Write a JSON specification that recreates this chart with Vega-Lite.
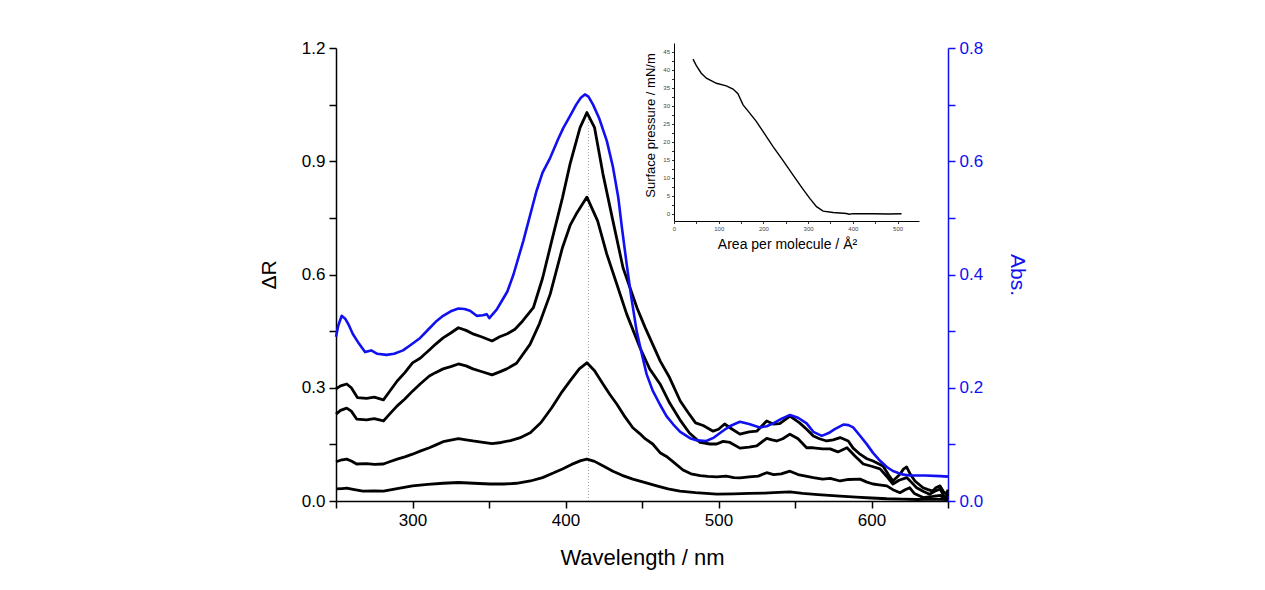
{
  "$schema": "https://vega.github.io/schema/vega-lite/v6.json",
  "autosize": {"type": "none"},
  "padding": {"left": 336, "top": 48, "right": 317, "bottom": 89},
  "width": 612,
  "height": 453,
  "background": "white",
  "config": {
    "font": "Liberation Sans",
    "view": {"stroke": null},
    "axis": {"grid": false, "labelFont": "Liberation Sans", "titleFont": "Liberation Sans", "titleFontWeight": "normal", "labelOverlap": false, "labelFlush": false}
  },
  "datasets": {
    "dr": [
      {"s":"1","wl":250,"v":0.297},{"s":"1","wl":253,"v":0.305},{"s":"1","wl":257,"v":0.31},{"s":"1","wl":260,"v":0.3},{"s":"1","wl":264,"v":0.274},{"s":"1","wl":270,"v":0.272},{"s":"1","wl":275,"v":0.275},{"s":"1","wl":281,"v":0.268},{"s":"1","wl":285,"v":0.29},{"s":"1","wl":290,"v":0.318},{"s":"1","wl":295,"v":0.34},{"s":"1","wl":300,"v":0.366},{"s":"1","wl":305,"v":0.378},{"s":"1","wl":311,"v":0.4},{"s":"1","wl":315,"v":0.415},{"s":"1","wl":320,"v":0.432},{"s":"1","wl":325,"v":0.445},{"s":"1","wl":330,"v":0.459},{"s":"1","wl":335,"v":0.452},{"s":"1","wl":340,"v":0.442},{"s":"1","wl":345,"v":0.435},{"s":"1","wl":352,"v":0.424},{"s":"1","wl":357,"v":0.435},{"s":"1","wl":362,"v":0.443},{"s":"1","wl":367,"v":0.455},{"s":"1","wl":372,"v":0.477},{"s":"1","wl":379,"v":0.512},{"s":"1","wl":385,"v":0.59},{"s":"1","wl":391,"v":0.689},{"s":"1","wl":398,"v":0.803},{"s":"1","wl":403,"v":0.893},{"s":"1","wl":409.5,"v":0.989},{"s":"1","wl":414,"v":1.029},{"s":"1","wl":419,"v":0.989},{"s":"1","wl":424.5,"v":0.866},{"s":"1","wl":431,"v":0.742},{"s":"1","wl":437.6,"v":0.618},{"s":"1","wl":446.7,"v":0.512},{"s":"1","wl":452,"v":0.46},{"s":"1","wl":457,"v":0.415},{"s":"1","wl":462,"v":0.37},{"s":"1","wl":468,"v":0.327},{"s":"1","wl":475,"v":0.265},{"s":"1","wl":480,"v":0.235},{"s":"1","wl":485,"v":0.207},{"s":"1","wl":490,"v":0.2},{"s":"1","wl":496.5,"v":0.185},{"s":"1","wl":500,"v":0.19},{"s":"1","wl":504,"v":0.204},{"s":"1","wl":509,"v":0.19},{"s":"1","wl":514,"v":0.177},{"s":"1","wl":520,"v":0.183},{"s":"1","wl":525,"v":0.185},{"s":"1","wl":531.5,"v":0.212},{"s":"1","wl":535.7,"v":0.204},{"s":"1","wl":540,"v":0.205},{"s":"1","wl":546.7,"v":0.225},{"s":"1","wl":553,"v":0.207},{"s":"1","wl":557.6,"v":0.19},{"s":"1","wl":562,"v":0.172},{"s":"1","wl":566,"v":0.165},{"s":"1","wl":570.7,"v":0.159},{"s":"1","wl":575,"v":0.162},{"s":"1","wl":579.5,"v":0.168},{"s":"1","wl":584.8,"v":0.159},{"s":"1","wl":588,"v":0.14},{"s":"1","wl":592.5,"v":0.124},{"s":"1","wl":597,"v":0.112},{"s":"1","wl":601,"v":0.106},{"s":"1","wl":607.5,"v":0.093},{"s":"1","wl":611,"v":0.07},{"s":"1","wl":614,"v":0.053},{"s":"1","wl":618.6,"v":0.071},{"s":"1","wl":621,"v":0.085},{"s":"1","wl":623,"v":0.09},{"s":"1","wl":625.5,"v":0.07},{"s":"1","wl":628.4,"v":0.053},{"s":"1","wl":633.7,"v":0.035},{"s":"1","wl":637,"v":0.03},{"s":"1","wl":640,"v":0.026},{"s":"1","wl":642,"v":0.035},{"s":"1","wl":644.8,"v":0.04},{"s":"1","wl":647,"v":0.025},{"s":"1","wl":649,"v":0.018},{"s":"1","wl":650,"v":0.03},
      {"s":"2","wl":250,"v":0.23},{"s":"2","wl":253,"v":0.24},{"s":"2","wl":257,"v":0.246},{"s":"2","wl":260,"v":0.238},{"s":"2","wl":263.5,"v":0.217},{"s":"2","wl":270,"v":0.215},{"s":"2","wl":275,"v":0.218},{"s":"2","wl":281,"v":0.212},{"s":"2","wl":285,"v":0.23},{"s":"2","wl":290,"v":0.252},{"s":"2","wl":295,"v":0.27},{"s":"2","wl":300,"v":0.291},{"s":"2","wl":305,"v":0.31},{"s":"2","wl":311,"v":0.331},{"s":"2","wl":315,"v":0.34},{"s":"2","wl":320,"v":0.35},{"s":"2","wl":325,"v":0.356},{"s":"2","wl":330,"v":0.363},{"s":"2","wl":335,"v":0.358},{"s":"2","wl":339.5,"v":0.35},{"s":"2","wl":345,"v":0.343},{"s":"2","wl":352,"v":0.334},{"s":"2","wl":357,"v":0.342},{"s":"2","wl":361.6,"v":0.35},{"s":"2","wl":368,"v":0.365},{"s":"2","wl":376.8,"v":0.415},{"s":"2","wl":383,"v":0.47},{"s":"2","wl":390,"v":0.548},{"s":"2","wl":398,"v":0.671},{"s":"2","wl":403,"v":0.73},{"s":"2","wl":407,"v":0.76},{"s":"2","wl":414,"v":0.805},{"s":"2","wl":421,"v":0.742},{"s":"2","wl":427,"v":0.654},{"s":"2","wl":433.5,"v":0.575},{"s":"2","wl":440,"v":0.495},{"s":"2","wl":448.7,"v":0.406},{"s":"2","wl":455,"v":0.35},{"s":"2","wl":461.8,"v":0.31},{"s":"2","wl":468,"v":0.26},{"s":"2","wl":474.8,"v":0.215},{"s":"2","wl":481,"v":0.18},{"s":"2","wl":488,"v":0.155},{"s":"2","wl":494.4,"v":0.151},{"s":"2","wl":498.8,"v":0.151},{"s":"2","wl":503,"v":0.158},{"s":"2","wl":507.5,"v":0.155},{"s":"2","wl":514,"v":0.14},{"s":"2","wl":520,"v":0.143},{"s":"2","wl":525,"v":0.146},{"s":"2","wl":531.5,"v":0.166},{"s":"2","wl":535,"v":0.162},{"s":"2","wl":538,"v":0.159},{"s":"2","wl":542,"v":0.165},{"s":"2","wl":546.7,"v":0.177},{"s":"2","wl":552,"v":0.165},{"s":"2","wl":557.6,"v":0.141},{"s":"2","wl":562,"v":0.141},{"s":"2","wl":568,"v":0.138},{"s":"2","wl":573,"v":0.138},{"s":"2","wl":578,"v":0.13},{"s":"2","wl":584,"v":0.141},{"s":"2","wl":589,"v":0.12},{"s":"2","wl":594.6,"v":0.098},{"s":"2","wl":600,"v":0.092},{"s":"2","wl":605.6,"v":0.085},{"s":"2","wl":610,"v":0.065},{"s":"2","wl":614,"v":0.045},{"s":"2","wl":618,"v":0.055},{"s":"2","wl":623,"v":0.062},{"s":"2","wl":626,"v":0.05},{"s":"2","wl":629.5,"v":0.035},{"s":"2","wl":634,"v":0.025},{"s":"2","wl":638,"v":0.018},{"s":"2","wl":641,"v":0.025},{"s":"2","wl":644.8,"v":0.032},{"s":"2","wl":647,"v":0.015},{"s":"2","wl":649,"v":0.009},{"s":"2","wl":650,"v":0.02},
      {"s":"3","wl":250,"v":0.104},{"s":"3","wl":253,"v":0.108},{"s":"3","wl":257,"v":0.111},{"s":"3","wl":260,"v":0.106},{"s":"3","wl":263.5,"v":0.098},{"s":"3","wl":270,"v":0.099},{"s":"3","wl":275,"v":0.097},{"s":"3","wl":281,"v":0.098},{"s":"3","wl":285,"v":0.104},{"s":"3","wl":290,"v":0.111},{"s":"3","wl":295,"v":0.117},{"s":"3","wl":300,"v":0.124},{"s":"3","wl":305,"v":0.132},{"s":"3","wl":311,"v":0.141},{"s":"3","wl":315,"v":0.148},{"s":"3","wl":320,"v":0.157},{"s":"3","wl":325,"v":0.161},{"s":"3","wl":330,"v":0.165},{"s":"3","wl":335,"v":0.162},{"s":"3","wl":339.5,"v":0.159},{"s":"3","wl":345,"v":0.156},{"s":"3","wl":352,"v":0.152},{"s":"3","wl":358,"v":0.155},{"s":"3","wl":364,"v":0.16},{"s":"3","wl":370,"v":0.167},{"s":"3","wl":377,"v":0.181},{"s":"3","wl":384,"v":0.208},{"s":"3","wl":391,"v":0.247},{"s":"3","wl":397,"v":0.285},{"s":"3","wl":403,"v":0.318},{"s":"3","wl":409,"v":0.35},{"s":"3","wl":414,"v":0.366},{"s":"3","wl":419,"v":0.345},{"s":"3","wl":424.5,"v":0.31},{"s":"3","wl":429,"v":0.282},{"s":"3","wl":433.5,"v":0.257},{"s":"3","wl":439,"v":0.222},{"s":"3","wl":444,"v":0.194},{"s":"3","wl":448.7,"v":0.178},{"s":"3","wl":452,"v":0.165},{"s":"3","wl":457,"v":0.151},{"s":"3","wl":461.8,"v":0.128},{"s":"3","wl":466,"v":0.118},{"s":"3","wl":470,"v":0.105},{"s":"3","wl":476.8,"v":0.082},{"s":"3","wl":482,"v":0.072},{"s":"3","wl":488,"v":0.067},{"s":"3","wl":493,"v":0.065},{"s":"3","wl":498.8,"v":0.064},{"s":"3","wl":505,"v":0.066},{"s":"3","wl":510,"v":0.062},{"s":"3","wl":514,"v":0.061},{"s":"3","wl":520,"v":0.064},{"s":"3","wl":526,"v":0.066},{"s":"3","wl":531.5,"v":0.075},{"s":"3","wl":536,"v":0.07},{"s":"3","wl":541,"v":0.072},{"s":"3","wl":546.7,"v":0.079},{"s":"3","wl":552,"v":0.07},{"s":"3","wl":557,"v":0.066},{"s":"3","wl":562,"v":0.062},{"s":"3","wl":568,"v":0.058},{"s":"3","wl":573,"v":0.06},{"s":"3","wl":579.5,"v":0.053},{"s":"3","wl":585,"v":0.057},{"s":"3","wl":592.5,"v":0.058},{"s":"3","wl":597,"v":0.05},{"s":"3","wl":601,"v":0.045},{"s":"3","wl":605,"v":0.043},{"s":"3","wl":610,"v":0.04},{"s":"3","wl":614,"v":0.03},{"s":"3","wl":618.6,"v":0.022},{"s":"3","wl":622,"v":0.03},{"s":"3","wl":625,"v":0.035},{"s":"3","wl":628,"v":0.02},{"s":"3","wl":633.7,"v":0.009},{"s":"3","wl":640,"v":0.012},{"s":"3","wl":645,"v":0.015},{"s":"3","wl":648,"v":0.005},{"s":"3","wl":650,"v":0.01},
      {"s":"4","wl":250,"v":0.032},{"s":"4","wl":254,"v":0.033},{"s":"4","wl":257,"v":0.034},{"s":"4","wl":262,"v":0.03},{"s":"4","wl":267.6,"v":0.026},{"s":"4","wl":275,"v":0.027},{"s":"4","wl":281,"v":0.026},{"s":"4","wl":290,"v":0.033},{"s":"4","wl":300,"v":0.04},{"s":"4","wl":310,"v":0.044},{"s":"4","wl":320,"v":0.047},{"s":"4","wl":330,"v":0.049},{"s":"4","wl":340,"v":0.047},{"s":"4","wl":350.6,"v":0.045},{"s":"4","wl":360,"v":0.045},{"s":"4","wl":368,"v":0.047},{"s":"4","wl":377,"v":0.053},{"s":"4","wl":385,"v":0.062},{"s":"4","wl":392,"v":0.074},{"s":"4","wl":398,"v":0.085},{"s":"4","wl":404,"v":0.097},{"s":"4","wl":410,"v":0.107},{"s":"4","wl":414,"v":0.111},{"s":"4","wl":419,"v":0.105},{"s":"4","wl":425,"v":0.092},{"s":"4","wl":431,"v":0.079},{"s":"4","wl":437,"v":0.068},{"s":"4","wl":444,"v":0.058},{"s":"4","wl":451,"v":0.05},{"s":"4","wl":459.6,"v":0.04},{"s":"4","wl":467,"v":0.032},{"s":"4","wl":474.8,"v":0.026},{"s":"4","wl":485,"v":0.022},{"s":"4","wl":498.8,"v":0.018},{"s":"4","wl":510,"v":0.019},{"s":"4","wl":520,"v":0.02},{"s":"4","wl":530,"v":0.021},{"s":"4","wl":536,"v":0.022},{"s":"4","wl":546.7,"v":0.024},{"s":"4","wl":555,"v":0.02},{"s":"4","wl":565,"v":0.017},{"s":"4","wl":579.5,"v":0.013},{"s":"4","wl":590,"v":0.01},{"s":"4","wl":600,"v":0.008},{"s":"4","wl":610,"v":0.006},{"s":"4","wl":620,"v":0.005},{"s":"4","wl":630,"v":0.004},{"s":"4","wl":640,"v":0.005},{"s":"4","wl":650,"v":0.004}
    ],
    "abs": [
      {"wl":250,"a":0.29},{"wl":251.5,"a":0.31},{"wl":253.7,"a":0.327},{"wl":256,"a":0.322},{"wl":258.5,"a":0.31},{"wl":261,"a":0.295},{"wl":265,"a":0.278},{"wl":269,"a":0.263},{"wl":273,"a":0.266},{"wl":277,"a":0.26},{"wl":283,"a":0.258},{"wl":288,"a":0.26},{"wl":293.8,"a":0.266},{"wl":299,"a":0.276},{"wl":305,"a":0.288},{"wl":310,"a":0.302},{"wl":315.8,"a":0.318},{"wl":320,"a":0.327},{"wl":325,"a":0.335},{"wl":330,"a":0.34},{"wl":334,"a":0.339},{"wl":337.6,"a":0.336},{"wl":342,"a":0.327},{"wl":346,"a":0.328},{"wl":348.5,"a":0.33},{"wl":350.2,"a":0.323},{"wl":355,"a":0.338},{"wl":357,"a":0.347},{"wl":362,"a":0.37},{"wl":366,"a":0.4},{"wl":372.4,"a":0.459},{"wl":381,"a":0.547},{"wl":385,"a":0.58},{"wl":390,"a":0.606},{"wl":395,"a":0.638},{"wl":398.6,"a":0.659},{"wl":403,"a":0.68},{"wl":407,"a":0.7},{"wl":410,"a":0.712},{"wl":412.7,"a":0.718},{"wl":415,"a":0.714},{"wl":418,"a":0.7},{"wl":422,"a":0.676},{"wl":427,"a":0.636},{"wl":431,"a":0.59},{"wl":434.5,"a":0.536},{"wl":437,"a":0.48},{"wl":440,"a":0.418},{"wl":443,"a":0.36},{"wl":446.5,"a":0.3},{"wl":449,"a":0.27},{"wl":453,"a":0.224},{"wl":457,"a":0.195},{"wl":461.8,"a":0.17},{"wl":466,"a":0.15},{"wl":470.5,"a":0.135},{"wl":475,"a":0.122},{"wl":481.4,"a":0.111},{"wl":486,"a":0.107},{"wl":492,"a":0.106},{"wl":497,"a":0.112},{"wl":503,"a":0.124},{"wl":508,"a":0.133},{"wl":514,"a":0.14},{"wl":520,"a":0.136},{"wl":527,"a":0.13},{"wl":531.5,"a":0.132},{"wl":535.8,"a":0.137},{"wl":541,"a":0.145},{"wl":546.7,"a":0.152},{"wl":552,"a":0.147},{"wl":557.6,"a":0.137},{"wl":562,"a":0.122},{"wl":567.5,"a":0.115},{"wl":572,"a":0.12},{"wl":576,"a":0.127},{"wl":581.6,"a":0.135},{"wl":585,"a":0.134},{"wl":588,"a":0.13},{"wl":592,"a":0.117},{"wl":597,"a":0.1},{"wl":601,"a":0.085},{"wl":605.6,"a":0.071},{"wl":610,"a":0.06},{"wl":614,"a":0.053},{"wl":620,"a":0.047},{"wl":625,"a":0.045},{"wl":635,"a":0.045},{"wl":645,"a":0.044},{"wl":650,"a":0.043}
    ],
    "iso": [
      {"area":42.5,"p":43.0},{"area":50,"p":41.2},{"area":61,"p":39.1},{"area":72.4,"p":37.7},{"area":94.8,"p":36.3},{"area":117,"p":35.6},{"area":132,"p":34.7},{"area":143,"p":33.4},{"area":154.5,"p":30.3},{"area":169.4,"p":28.0},{"area":184,"p":25.7},{"area":199,"p":22.9},{"area":221.6,"p":18.7},{"area":244,"p":14.8},{"area":266,"p":10.8},{"area":288.8,"p":6.8},{"area":303.7,"p":4.3},{"area":318.7,"p":2.0},{"area":333.6,"p":0.74},{"area":356,"p":0.37},{"area":385.8,"p":0.1},{"area":392,"p":-0.1},{"area":400,"p":0.05},{"area":445.5,"p":0.0},{"area":480,"p":-0.05},{"area":509,"p":0.0}
    ]
  },
  "layer": [
    {
      "data": {"values": [{"wl": 415, "lo": 0, "hi": 1.02}]},
      "mark": {"type": "rule", "color": "#a0a0a0", "strokeDash": [1, 2], "strokeWidth": 1},
      "encoding": {
        "x": {"field": "wl", "type": "quantitative", "scale": {"domain": [250, 650], "nice": false, "zero": false}, "axis": null},
        "y": {"field": "lo", "type": "quantitative", "scale": {"domain": [0, 1.2], "nice": false}, "axis": null},
        "y2": {"field": "hi"}
      }
    },
    {
      "data": {"name": "dr"},
      "mark": {"type": "line", "color": "black", "strokeWidth": 2.8, "strokeJoin": "round"},
      "encoding": {
        "detail": {"field": "s", "type": "nominal"},
        "x": {"field": "wl", "type": "quantitative", "scale": {"domain": [250, 650], "nice": false, "zero": false},
          "axis": {"orient": "bottom", "title": "Wavelength / nm", "values": [250, 300, 350, 400, 450, 500, 550, 600, 650],
            "labelExpr": "datum.value % 100 == 0 ? datum.label : ''", "tickSize": 7, "tickWidth": 1.5, "tickColor": "black",
            "domainColor": "black", "domainWidth": 1.5, "labelFontSize": 17, "labelColor": "black", "labelPadding": 4,
            "titleFontSize": 22, "titleColor": "black", "titlePadding": 19}},
        "y": {"field": "v", "type": "quantitative", "scale": {"domain": [0, 1.2], "nice": false},
          "axis": {"orient": "left", "title": "ΔR", "values": [0, 0.15, 0.3, 0.45, 0.6, 0.75, 0.9, 1.05, 1.2],
            "labelExpr": "indexof([0, 0.3, 0.6, 0.9, 1.2], datum.value) >= 0 ? format(datum.value, '.1f') : ''",
            "tickSize": 7, "tickWidth": 1.5, "tickColor": "black", "domainColor": "black", "domainWidth": 1.5,
            "labelFontSize": 17, "labelColor": "black", "labelPadding": 4, "titleFontSize": 21, "titleColor": "black", "titlePadding": 22}}
      }
    },
    {
      "data": {"name": "abs"},
      "mark": {"type": "line", "color": "#1010f0", "strokeWidth": 2.6, "strokeJoin": "round"},
      "encoding": {
        "x": {"field": "wl", "type": "quantitative", "scale": {"domain": [250, 650], "nice": false, "zero": false}, "axis": null},
        "y": {"field": "a", "type": "quantitative", "scale": {"domain": [0, 0.8], "nice": false},
          "axis": {"orient": "right", "title": "Abs.", "values": [0, 0.1, 0.2, 0.3, 0.4, 0.5, 0.6, 0.7, 0.8],
            "labelExpr": "indexof([0, 0.2, 0.4, 0.6, 0.8], datum.value) >= 0 ? format(datum.value, '.1f') : ''",
            "tickSize": 7, "tickWidth": 1.5, "tickColor": "#1010f0", "domainColor": "#1010f0", "domainWidth": 1.5,
            "labelFontSize": 17, "labelColor": "#1010f0", "labelPadding": 4, "titleFontSize": 21, "titleColor": "#1010f0", "titlePadding": 24}}
      }
    },
    {
      "data": {"name": "iso"},
      "mark": {"type": "line", "color": "black", "strokeWidth": 1.4},
      "encoding": {
        "x": {"field": "area", "type": "quantitative", "scale": {"domain": [0, 548], "range": [338, 583], "nice": false, "zero": false},
          "axis": {"orient": "bottom", "offset": -280, "title": "Area per molecule / Å²", "values": [0, 50, 100, 150, 200, 250, 300, 350, 400, 450, 500],
            "labelExpr": "datum.value % 100 == 0 ? datum.label : ''", "tickSize": 2.5, "tickWidth": 0.8, "tickColor": "black",
            "domainColor": "black", "domainWidth": 1, "labelFontSize": 6, "labelColor": "#444", "labelPadding": 2,
            "titleFontSize": 14, "titleColor": "black", "titlePadding": 6, "titleX": 451}},
        "y": {"field": "p", "type": "quantitative", "scale": {"domain": [-2, 47.5], "range": [173, -5], "nice": false, "zero": false},
          "axis": {"orient": "left", "offset": -338, "title": "Surface pressure / mN/m",
            "values": [0, 2.5, 5, 7.5, 10, 12.5, 15, 17.5, 20, 22.5, 25, 27.5, 30, 32.5, 35, 37.5, 40, 42.5, 45],
            "labelExpr": "datum.value % 5 == 0 ? datum.label : ''", "tickSize": 2.5, "tickWidth": 0.8, "tickColor": "black",
            "domainColor": "black", "domainWidth": 1, "labelFontSize": 6, "labelColor": "#444", "labelPadding": 2,
            "titleFontSize": 13, "titleColor": "black", "titlePadding": 5, "titleY": 77}}
      }
    }
  ],
  "resolve": {"scale": {"x": "independent", "y": "independent"}}
}
